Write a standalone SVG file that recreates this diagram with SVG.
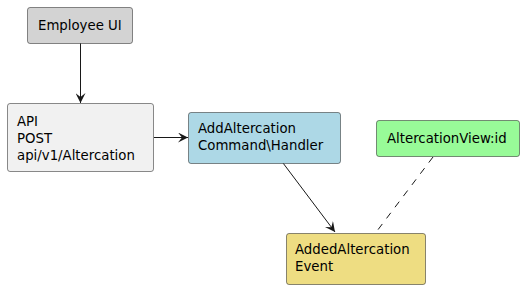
<svg xmlns="http://www.w3.org/2000/svg" width="524" height="290" viewBox="0 0 524 290">
  <defs>
    <marker id="arrow" viewBox="0 0 10 10" refX="10" refY="5" markerWidth="10" markerHeight="10" markerUnits="userSpaceOnUse" orient="auto">
      <path d="M0,0 L10,5 L0,10 L4,5 Z" fill="#181818"/>
    </marker>
  </defs>
  <style>
    .box { stroke: #181818; stroke-width: 0.5; }
    .label { font-family: "DejaVu Sans", "Liberation Sans", sans-serif; font-size: 13.3px; fill: #000; }
    .edge { stroke: #181818; stroke-width: 1; fill: none; }
    .dash { stroke-dasharray: 7 7; }
  </style>
  <rect width="524" height="290" fill="#ffffff"/>

  <g id="connectors">
    <line class="edge" x1="80.5" y1="43" x2="80.5" y2="103" marker-end="url(#arrow)"/>
    <line class="edge" x1="154" y1="137.5" x2="188" y2="137.5" marker-end="url(#arrow)"/>
    <line class="edge" x1="283" y1="163" x2="335" y2="232" marker-end="url(#arrow)"/>
    <line class="edge dash" x1="433" y1="157" x2="377" y2="231"/>
  </g>

  <g id="employee-ui">
    <rect class="box" x="27.5" y="7.5" width="105" height="36" rx="2.5" fill="#d3d3d3"/>
    <text class="label" x="38" y="30">Employee UI</text>
  </g>

  <g id="api">
    <rect class="box" x="7.5" y="103.5" width="146" height="68" rx="2.5" fill="#f1f1f1"/>
    <text class="label" x="17" y="126">API</text>
    <text class="label" x="17" y="143">POST</text>
    <text class="label" x="17" y="160">api/v1/Altercation</text>
  </g>

  <g id="command-handler">
    <rect class="box" x="188.5" y="112.5" width="152" height="51" rx="2.5" fill="#add8e6"/>
    <text class="label" x="198" y="133">AddAltercation</text>
    <text class="label" x="198" y="150">Command\Handler</text>
  </g>

  <g id="altercation-view">
    <rect class="box" x="376.5" y="120.5" width="143" height="36" rx="2.5" fill="#98fb98"/>
    <text class="label" x="387" y="143">AltercationView:id</text>
  </g>

  <g id="added-event">
    <rect class="box" x="286.5" y="233.5" width="139" height="51" rx="2.5" fill="#eedd82"/>
    <text class="label" x="295" y="254">AddedAltercation</text>
    <text class="label" x="295" y="271">Event</text>
  </g>
</svg>
